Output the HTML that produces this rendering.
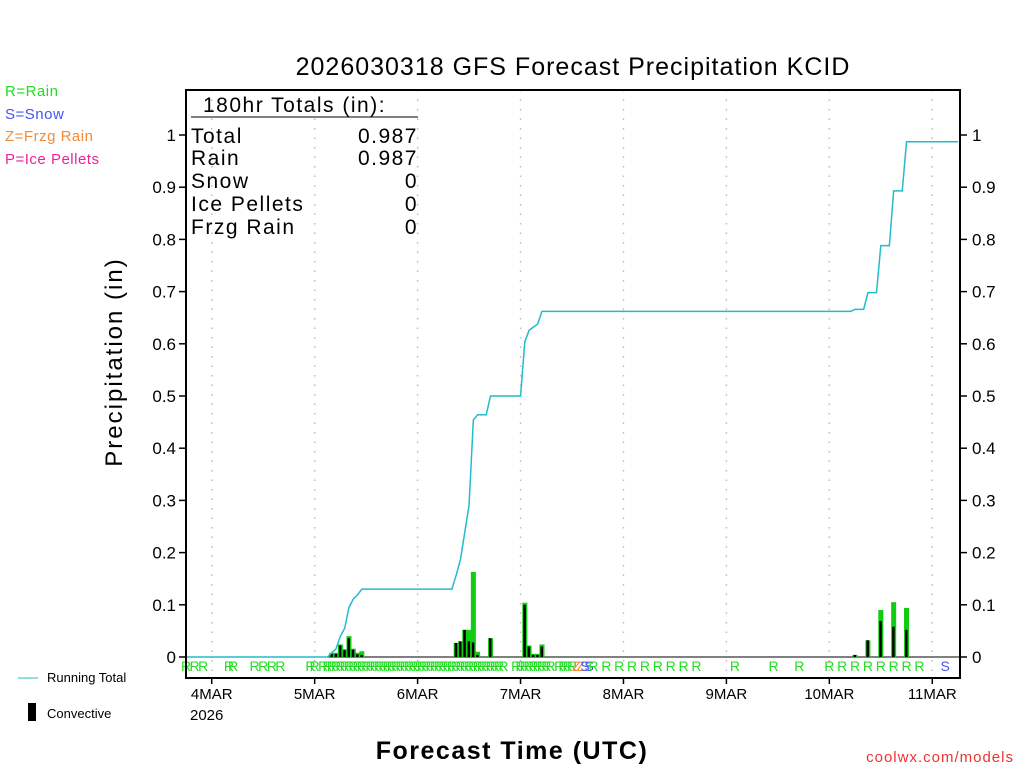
<!DOCTYPE html>
<html><head><meta charset="utf-8"><style>
body{margin:0;background:#fff;}
svg{display:block;font-family:"Liberation Sans",sans-serif;}
</style></head><body>
<svg id="chart" width="1024" height="768" xmlns="http://www.w3.org/2000/svg">
<text x="573" y="75" text-anchor="middle" font-size="25" letter-spacing="1">2026030318 GFS Forecast Precipitation KCID</text>
<g font-size="15" letter-spacing="0.5">
<text x="5" y="96" fill="#22dd22">R=Rain</text>
<text x="5" y="119" fill="#4455ee">S=Snow</text>
<text x="5" y="141" fill="#f08c3c">Z=Frzg Rain</text>
<text x="5" y="164" fill="#ee2299">P=Ice Pellets</text>
</g>
<g id="grid"></g>
<g id="marks"></g>
<g id="axes"></g>
<g font-size="21" fill="#000" letter-spacing="1.5">
<text x="203" y="112">180hr Totals (in):</text>
<line x1="191" y1="117" x2="418" y2="117" stroke="#000" stroke-width="1"/>
<text x="191" y="143">Total</text><text x="418" y="143" text-anchor="end">0.987</text>
<text x="191" y="165">Rain</text><text x="418" y="165" text-anchor="end">0.987</text>
<text x="191" y="188">Snow</text><text x="418" y="188" text-anchor="end">0</text>
<text x="191" y="211">Ice Pellets</text><text x="418" y="211" text-anchor="end">0</text>
<text x="191" y="234">Frzg Rain</text><text x="418" y="234" text-anchor="end">0</text>
</g>
<text transform="translate(122,362) rotate(-90)" text-anchor="middle" font-size="24" letter-spacing="2">Precipitation (in)</text>
<text x="512" y="759" text-anchor="middle" font-size="25" font-weight="bold" letter-spacing="1.5">Forecast Time (UTC)</text>
<text x="1014" y="762" text-anchor="end" font-size="15" fill="#ee3333" letter-spacing="1">coolwx.com/models</text>
<g font-size="13">
<line x1="18" y1="678" x2="38" y2="678" stroke="#22bbcc" stroke-width="1"/>
<text x="47" y="682">Running Total</text>
<rect x="28" y="703" width="8" height="18" fill="#000"/>
<text x="47" y="718">Convective</text>
</g>
</svg>
<script>
const dayLabels=["4MAR","5MAR","6MAR","7MAR","8MAR","9MAR","10MAR","11MAR"];
const yTicks=[0,0.1,0.2,0.3,0.4,0.5,0.6,0.7,0.8,0.9,1];
const barHours=[34,35,36,37,38,39,40,41,63,64,65,66,67,68,71,79,80,81,82,83,156,159,162,165,168];
const barTotal=[0.008,0.008,0.024,0.015,0.04,0.016,0.008,0.011,0.027,0.03,0.052,0.052,0.163,0.01,0.036,0.104,0.022,0.006,0.006,0.024,0.004,0.032,0.09,0.105,0.094];
const barConv=[0.006,0.006,0.022,0.013,0.036,0.014,0.005,0.004,0.027,0.03,0.052,0.03,0.028,0.004,0.036,0.1,0.02,0.004,0.004,0.02,0.004,0.032,0.069,0.058,0.052];
const markHours=[0,2,4,10,11,16,18,20,22,29,30,32,33,34,35,36,37,38,39,40,41,42,43,44,45,46,47,48,49,50,51,52,53,54,55,56,57,58,59,60,61,62,63,64,65,66,67,68,69,70,71,72,73,74,77,78,79,80,81,82,83,84,85,87,88,89,90,91,92,93,94,95,98,101,104,107,110,113,116,119,128,137,143,150,153,156,159,162,165,168,171,177];
const markType="RRRRRRRRRR"+"RRRRRRRRRR"+"RRRRRRRRRR"+"RRRRRRRRRR"+"RRRRRRRRRR"+"RRRRRRRRRR"+"RRRRRRR"+"ZZSS"+"RRRRRRRRRRRRRRRRRRRR"+"S";
const X0=186,X1=958,Y0=657,YS=522,NH=180;
const xs=h=>X0+(X1-X0)*h/NH;
const ys=v=>Y0-v*YS;
const NS="http://www.w3.org/2000/svg";
function mk(tag,attrs,parent){const e=document.createElementNS(NS,tag);for(const k in attrs)e.setAttribute(k,attrs[k]);parent.appendChild(e);return e;}
const grid=document.getElementById('grid'),marks=document.getElementById('marks'),axes=document.getElementById('axes');
dayLabels.forEach((d,i)=>{const x=xs(6+24*i);
 const g=mk('line',{x1:x,y1:90,x2:x,y2:678,stroke:'#bbb','stroke-width':1.5,'stroke-dasharray':'1.5,8'},grid);
 
 
 mk('line',{x1:x,y1:678,x2:x,y2:684,stroke:'#000','stroke-width':1.5},axes);
 const t=mk('text',{x:x,y:699,'text-anchor':'middle','font-size':15},axes);t.textContent=d;
 
 
});
const yr=mk('text',{x:190,y:720,'font-size':15},axes);yr.textContent="2026";


yTicks.forEach(v=>{const y=ys(v);
 mk('line',{x1:X0-7,y1:y,x2:X0,y2:y,stroke:'#000','stroke-width':1.5},axes);
 mk('line',{x1:960,y1:y,x2:967,y2:y,stroke:'#000','stroke-width':1.5},axes);
 const l=mk('text',{x:X0-10,y:y+6,'text-anchor':'end','font-size':17},axes);l.textContent=String(v);
 
 
 const r=mk('text',{x:972,y:y+6,'font-size':17},axes);r.textContent=String(v);
 
 
});
const fr=mk('rect',{x:X0,y:90,width:960-X0,height:588,fill:'none',stroke:'#000','stroke-width':2},axes);


mk('line',{x1:X0,y1:Y0,x2:960,y2:Y0,stroke:'#000','stroke-width':1},marks);
barHours.forEach((h,i)=>{const x=xs(h);
 const b=mk('rect',{x:x-2.5,y:ys(barTotal[i]),width:5,height:barTotal[i]*YS,fill:'#11cc11'},marks);
 
 
 const c=mk('rect',{x:x-1.5,y:ys(barConv[i]),width:2.5,height:barConv[i]*YS,fill:'#000'},marks);
 
 
});
let pts=[[0,0]],cum=0;
barHours.forEach((h,i)=>{pts.push([h-1,cum]);cum+=barTotal[i];pts.push([h,cum]);});
pts.push([NH,cum]);
const ln=mk('polyline',{points:pts.map(p=>xs(p[0])+','+ys(p[1])).join(' '),fill:'none',stroke:'#22bbcc','stroke-width':1.5},marks);


const col={R:'#22dd22',S:'#4455ee',Z:'#f08c3c',P:'#ee2299'};
markHours.forEach((h,i)=>{const c=markType[i]||'R';
 const t=mk('text',{x:xs(h),y:671,'text-anchor':'middle','font-size':14,fill:col[c]},marks);t.textContent=c;
 
 
});
</script>
</body></html>
